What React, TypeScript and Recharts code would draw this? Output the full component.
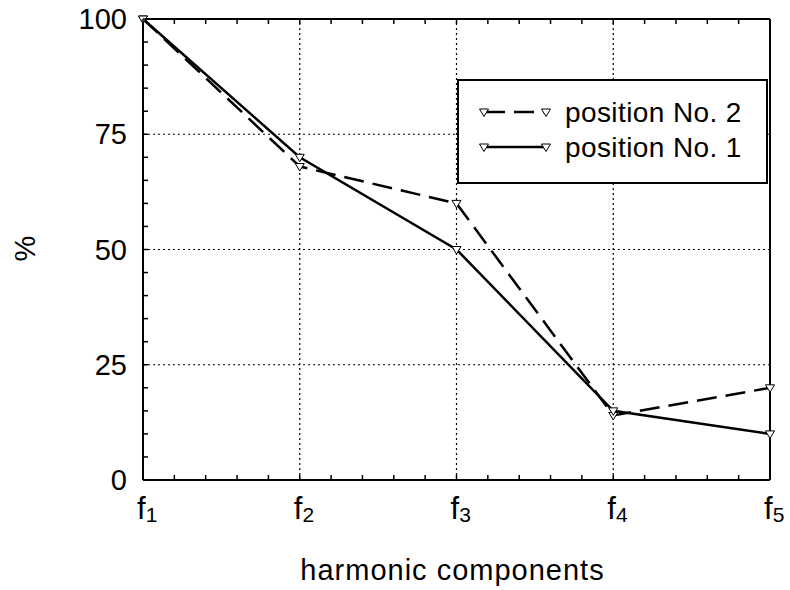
import React from 'react'
import { LineChart, Line, XAxis, YAxis, ReferenceLine } from 'recharts'

// harmonic index (f1..f5) and measured shares in %
const harmonics = [1, 2, 3, 4, 5]
const position1 = [100, 70, 50, 15, 10]
const position2 = [100, 68, 60, 14, 20]

const seriesNames = ['position No. 2', 'position No. 1']
const yLabels = [0, 25, 50, 75, 100]

const data = harmonics.map((h, i) => ({ h, p1: position1[i], p2: position2[i] }))

const xTicks = Array.from({ length: 21 }, (_, i) => 1 + i * 0.2)
const yTicks = Array.from({ length: 21 }, (_, i) => i * 5)

const FONT = '"Liberation Sans", Arial, sans-serif'
const DASH = '20 9'

const isMajorX = (v: number) => Math.abs(v - Math.round(v)) < 1e-6

function BottomTick(props: any) {
  const { x, y, payload } = props
  const v = payload.value
  const major = isMajorX(v)
  return (
    <g>
      <line x1={x} y1={y} x2={x} y2={y - 5} stroke="#000" strokeWidth={1.5} />
      {major && (
        <text x={x - 6} y={y + 39} fontFamily={FONT} fontSize={31} fill="#000">
          f
          <tspan fontSize={21} dy={3}>{Math.round(v)}</tspan>
        </text>
      )}
    </g>
  )
}

function TopTick(props: any) {
  const { x, y } = props
  return <line x1={x} y1={y} x2={x} y2={y + 5} stroke="#000" strokeWidth={1.5} />
}

function LeftTick(props: any) {
  const { x, y, payload } = props
  const v = payload.value
  return (
    <g>
      <line x1={x} y1={y} x2={x + 5} y2={y} stroke="#000" strokeWidth={1.5} />
      {yLabels.includes(v) && (
        <text x={x - 16} y={y} textAnchor="end" dominantBaseline="central" fontFamily={FONT} fontSize={29} fill="#000">
          {v}
        </text>
      )}
    </g>
  )
}

function RightTick(props: any) {
  const { x, y } = props
  return <line x1={x} y1={y} x2={x - 5} y2={y} stroke="#000" strokeWidth={1.5} />
}

function YTitle(props: any) {
  const { viewBox } = props
  const cx = viewBox.x + 25
  const cy = viewBox.y + viewBox.height / 2 - 1
  return (
    <text x={cx} y={cy} transform={`rotate(-90 ${cx} ${cy})`} textAnchor="middle" dominantBaseline="central" fontFamily={FONT} fontSize={29} fill="#000">
      %
    </text>
  )
}

function XTitle(props: any) {
  const { viewBox } = props
  return (
    <text
      x={viewBox.x + viewBox.width / 2 - 4}
      y={viewBox.y + 100}
      textAnchor="middle"
      fontFamily={FONT}
      fontSize={29}
      letterSpacing={1}
      fill="#000"
    >
      harmonic components
    </text>
  )
}

function Triangle(props: any) {
  const { cx, cy, index } = props
  if (cx == null || cy == null) return <g key={index} />
  return (
    <path
      key={index}
      d={`M${cx - 4.5},${cy - 3}L${cx + 4.5},${cy - 3}L${cx},${cy + 4.5}Z`}
      fill="#fff"
      stroke="#000"
      strokeWidth={1}
    />
  )
}

function LegendBox() {
  const rows = [
    { name: seriesNames[0], dash: DASH },
    { name: seriesNames[1], dash: undefined },
  ]
  return (
    <svg width={311} height={105} style={{ position: 'absolute', left: 457, top: 79 }}>
      <rect x={1} y={1} width={309} height={103} fill="#fff" stroke="#000" strokeWidth={2} />
      {rows.map((r, i) => {
        const cy = 33 + i * 35
        return (
          <g key={r.name}>
            <line x1={28} y1={cy} x2={88} y2={cy} stroke="#000" strokeWidth={2.5} strokeDasharray={r.dash} />
            <Triangle cx={27} cy={cy} index={0} />
            <Triangle cx={89} cy={cy} index={1} />
            <text x={108} y={cy} dominantBaseline="central" fontFamily={FONT} fontSize={28} letterSpacing={0.4} fill="#000">
              {r.name}
            </text>
          </g>
        )
      })}
    </svg>
  )
}

export default function App() {
  return (
    <div style={{ position: 'absolute', left: 0, top: 0, width: 790, height: 590, background: '#fff' }}>
      <LineChart width={790} height={590} data={data} margin={{ top: 0, right: 0, bottom: 0, left: 0 }}>
        <XAxis
          dataKey="h"
          type="number"
          domain={[1, 5]}
          ticks={xTicks}
          interval={0}
          tickLine={false}
          tickSize={0}
          tickMargin={0}
          height={110}
          axisLine={{ stroke: '#000', strokeWidth: 2 }}
          tick={<BottomTick />}
          label={<XTitle />}
        />
        <XAxis
          xAxisId="top"
          orientation="top"
          dataKey="h"
          type="number"
          domain={[1, 5]}
          ticks={xTicks}
          interval={0}
          tickLine={false}
          tickSize={0}
          tickMargin={0}
          height={19}
          axisLine={{ stroke: '#000', strokeWidth: 2 }}
          tick={<TopTick />}
        />
        <YAxis
          type="number"
          domain={[0, 100]}
          ticks={yTicks}
          interval={0}
          tickLine={false}
          tickSize={0}
          tickMargin={0}
          width={143}
          axisLine={{ stroke: '#000', strokeWidth: 2 }}
          tick={<LeftTick />}
          label={<YTitle />}
        />
        <YAxis
          yAxisId="right"
          orientation="right"
          type="number"
          domain={[0, 100]}
          ticks={yTicks}
          interval={0}
          tickLine={false}
          tickSize={0}
          tickMargin={0}
          width={20}
          axisLine={{ stroke: '#000', strokeWidth: 2 }}
          tick={<RightTick />}
        />
        {[25, 50, 75].map((v) => (
          <ReferenceLine key={'y' + v} y={v} stroke="#000" strokeWidth={1.2} strokeDasharray="2 3" />
        ))}
        {[2, 3, 4].map((v) => (
          <ReferenceLine key={'x' + v} x={v} stroke="#000" strokeWidth={1.2} strokeDasharray="2 3" />
        ))}
        <Line
          dataKey="p2"
          name={seriesNames[0]}
          type="linear"
          stroke="#000"
          strokeWidth={2.5}
          strokeDasharray={DASH}
          dot={Triangle}
          isAnimationActive={false}
        />
        <Line
          dataKey="p1"
          name={seriesNames[1]}
          type="linear"
          stroke="#000"
          strokeWidth={2.5}
          dot={Triangle}
          isAnimationActive={false}
        />
      </LineChart>
      <LegendBox />
    </div>
  )
}
